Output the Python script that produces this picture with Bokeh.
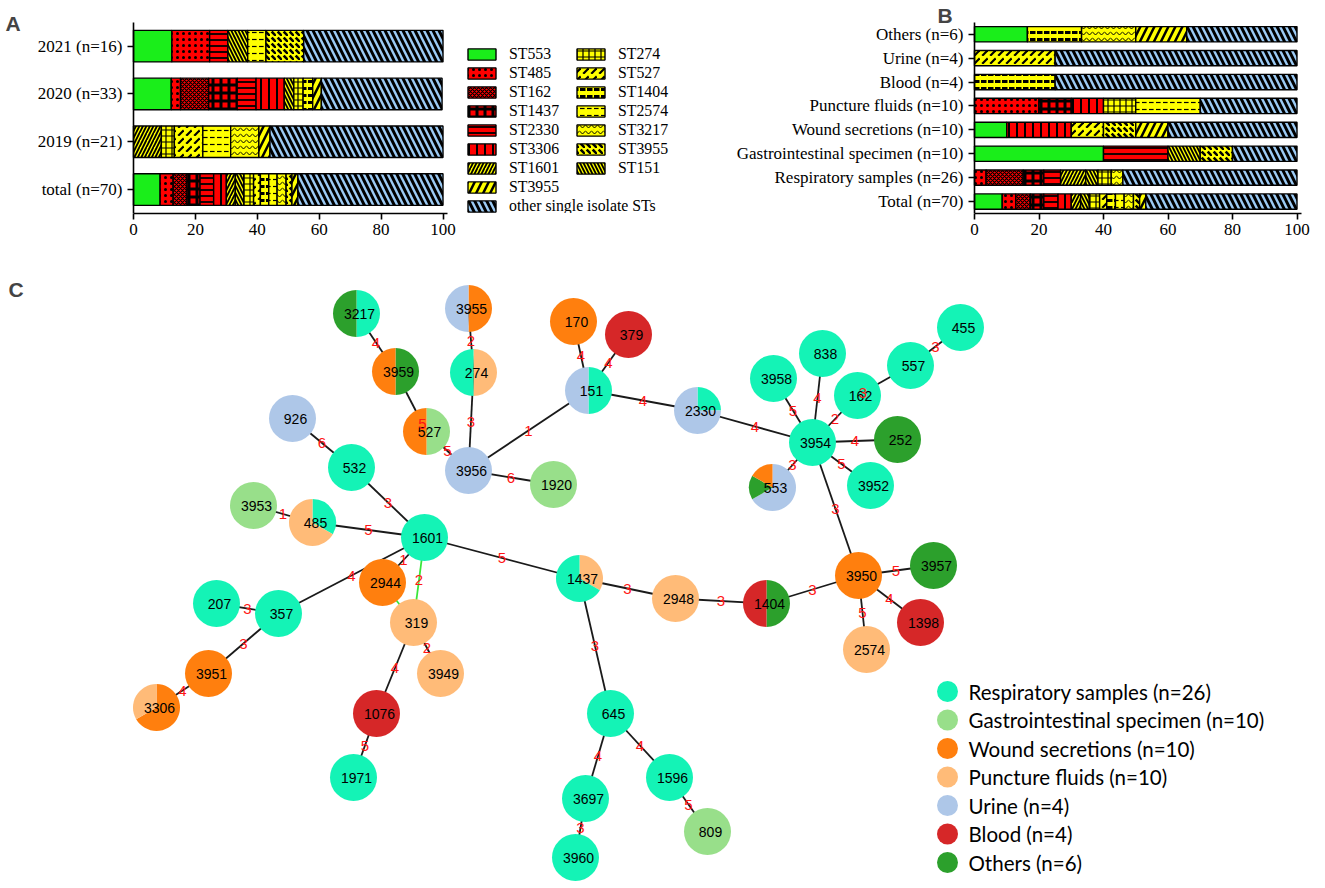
import math
from bokeh.plotting import figure
from bokeh.models import (Range1d, ColumnDataSource, Legend, LegendItem, FixedTicker, Label)
from bokeh.layouts import column, row
from bokeh.embed import file_html
from bokeh.resources import INLINE
from bokeh.core.properties import value

# ---------------- data: stacked bars (percent of isolates) ----------------
st_types = ["ST553", "ST485", "ST162", "ST1437", "ST2330", "ST3306", "ST1601", "ST151",
            "ST274", "ST527", "ST1404", "ST2574", "ST3217", "ST3955b", "ST3955", "other"]

# panel A (values aligned with st_types)
total_70 = [8.6, 4.2, 4.5, 4.2, 4.4, 4.1, 2.9, 2.7, 3.2, 2.2, 2.7, 2.7, 2.9, 1.9, 1.9, 46.9]
y2019_21 = [0, 0, 0, 0, 0, 0, 9.0, 0, 4.2, 9.2, 0, 9.0, 9.1, 0, 3.6, 55.9]
y2020_33 = [12.2, 3.0, 9.1, 9.2, 6.1, 9.1, 0, 3.1, 3.0, 0, 3.1, 0, 0, 0, 2.8, 39.0]
y2021_16 = [12.4, 12.2, 0, 0, 5.9, 0, 0, 6.4, 0, 0, 0, 5.9, 0, 12.2, 0, 45.0]
cats_a = ["total (n=70)", "2019 (n=21)", "2020 (n=33)", "2021 (n=16)"]

# panel B (values aligned with st_types)
resp_26 = [0, 3.6, 11.5, 6.4, 5.2, 0, 7.8, 3.8, 4.1, 0, 0, 0, 3.6, 0, 0, 54.0]
gastro_10 = [40, 0, 0, 0, 20, 0, 0, 10, 0, 0, 0, 0, 0, 10, 0, 20]
wound_10 = [10, 0, 0, 0, 0, 20, 0, 0, 0, 10, 0, 0, 0, 10, 10, 40]
puncture_10 = [0, 20, 0, 10, 0, 10, 0, 0, 10, 0, 0, 20, 0, 0, 0, 30]
blood_4 = [0, 0, 0, 0, 0, 0, 0, 0, 0, 0, 25, 0, 0, 0, 0, 75]
urine_4 = [0, 0, 0, 0, 0, 0, 0, 0, 0, 25, 0, 0, 0, 0, 0, 75]
others_6 = [16.4, 0, 0, 0, 0, 0, 0, 0, 0, 0, 16.8, 0, 16.8, 0, 15.8, 34.2]
cats_b = ["Total (n=70)", "Respiratory samples (n=26)", "Gastrointestinal specimen (n=10)",
          "Wound secretions (n=10)", "Puncture fluids (n=10)", "Blood (n=4)", "Urine (n=4)",
          "Others (n=6)"]

legend_col1 = [("ST553", "ST553"), ("ST485", "ST485"), ("ST162", "ST162"), ("ST1437", "ST1437"),
               ("ST2330", "ST2330"), ("ST3306", "ST3306"), ("ST1601", "ST1601"),
               ("ST3955", "ST3955"), ("other", "other single isolate STs")]
legend_col2 = [("ST274", "ST274"), ("ST527", "ST527"), ("ST1404", "ST1404"), ("ST2574", "ST2574"),
               ("ST3217", "ST3217"), ("ST3955b", "ST3955"), ("ST151", "ST151")]

# ---------------- data: minimum spanning tree ----------------
node_ids = ["3217", "3955", "170", "379", "455", "838", "557", "3959", "274", "151", "2330", "3958",
            "162", "926", "527", "3954", "252", "532", "3956", "1920", "553", "3952", "3953", "485",
            "1601", "2944", "1437", "2948", "1404", "3950", "3957", "1398", "2574", "207", "357",
            "319", "3949", "3951", "3306", "1076", "1971", "645", "3697", "1596", "809", "3960"]
node_x = [356, 468, 573, 628, 960, 822, 910, 395, 473, 588, 697, 773, 857, 292, 426, 812, 897, 351,
          468, 553, 772, 870, 253, 312, 424, 382, 579, 675, 766, 858, 933, 920, 866, 216, 278, 413,
          440, 208, 156, 376, 353, 610, 585, 669, 707, 575]
node_y = [575, 580, 567, 554, 561, 535, 523, 517, 516, 498, 478, 510, 493, 470, 457, 446, 449, 421,
          418, 404, 401, 403, 383, 366, 351, 306, 310, 290, 285, 313, 323, 266, 239, 285, 275, 266,
          215, 215, 181, 175, 111, 175, 90, 111, 57, 31]
# isolates per sample source, clockwise from 12 o'clock
node_mix = ["R1 O1", "W1 U1", "W1", "B1", "R1", "R1", "R1", "O1 W1", "P1 R1", "R1 U1", "R1 U3",
            "R1", "R1", "U1", "G1 W1", "R1", "O1", "R1", "U1", "G1", "U4 O1 W1", "R1", "G1",
            "R1 P2", "R1", "W1", "P1 R2", "P1", "O1 B1", "W1", "O1", "B1", "P1", "R1", "R1", "P1",
            "P1", "W1", "W2 P1", "B1", "R1", "R1", "R1", "R1", "G1", "R1"]

edge_from = ["3217", "3955", "3959", "274", "527", "3956", "3956", "151", "151", "151", "2330",
             "3954", "3954", "3954", "162", "557", "3954", "3954", "3954", "3954", "926", "532",
             "3953", "485", "1601", "1601", "1601", "2944", "1601", "207", "357", "3951", "319",
             "319", "1076", "1437", "2948", "1404", "3950", "3950", "3950", "1437", "645", "645",
             "3697", "1596"]
edge_to = ["3959", "274", "527", "3956", "3956", "151", "1920", "170", "379", "2330", "3954",
           "3958", "838", "162", "557", "455", "252", "3952", "553", "3950", "532", "1601", "485",
           "1601", "2944", "357", "319", "319", "1437", "357", "3951", "3306", "3949", "1076",
           "1971", "2948", "1404", "3950", "3957", "1398", "2574", "645", "3697", "1596", "3960",
           "809"]
edge_dist = ["4", "2", "5", "3", "5", "1", "6", "4", "4", "4", "4", "5", "4", "2", "3", "3", "4",
             "5", "3", "3", "6", "3", "1", "5", "1", "4", "2", "", "5", "3", "3", "4", "2", "4",
             "5", "3", "3", "3", "5", "4", "5", "3", "4", "4", "3", "5"]

source_codes = ["R", "G", "W", "P", "U", "B", "O"]
source_labels = ["Respiratory samples (n=26)", "Gastrointestinal specimen (n=10)",
                 "Wound secretions (n=10)", "Puncture fluids (n=10)", "Urine (n=4)",
                 "Blood (n=4)", "Others (n=6)"]

# ---------------- styles ----------------
SERIF = "Liberation Serif"
SANS = "Liberation Sans"
YEL = "#ffff00"
RED = "#ff0000"
bar_style = {
    "ST553": dict(fill_color="#1aee1a", hatch_pattern=None),
    "ST485": dict(fill_color=RED, hatch_pattern=".", hatch_scale=6, hatch_weight=1.5),
    "ST162": dict(fill_color=RED, hatch_pattern="x", hatch_scale=4, hatch_weight=1.2),
    "ST1437": dict(fill_color=RED, hatch_pattern="+", hatch_scale=8, hatch_weight=3),
    "ST2330": dict(fill_color=RED, hatch_pattern="-", hatch_scale=6, hatch_weight=1.8),
    "ST3306": dict(fill_color=RED, hatch_pattern="|", hatch_scale=8, hatch_weight=2),
    "ST1601": dict(fill_color=YEL, hatch_pattern="/", hatch_scale=7, hatch_weight=1.8),
    "ST151": dict(fill_color=YEL, hatch_pattern="\\", hatch_scale=7, hatch_weight=1.8),
    "ST274": dict(fill_color=YEL, hatch_pattern="+", hatch_scale=6, hatch_weight=1.2),
    "ST527": dict(fill_color=YEL, hatch_pattern=",", hatch_scale=8, hatch_weight=2.2),
    "ST1404": dict(fill_color=YEL, hatch_pattern='"', hatch_scale=7, hatch_weight=3),
    "ST2574": dict(fill_color=YEL, hatch_pattern='"', hatch_scale=7, hatch_weight=1.2),
    "ST3217": dict(fill_color=YEL, hatch_pattern="v", hatch_scale=6, hatch_weight=1),
    "ST3955b": dict(fill_color=YEL, hatch_pattern="`", hatch_scale=6, hatch_weight=2.5),
    "ST3955": dict(fill_color=YEL, hatch_pattern="/", hatch_scale=14, hatch_weight=2.5),
    "other": dict(fill_color="#9ccbf5", hatch_pattern="\\", hatch_scale=12, hatch_weight=3),
}
source_colors = {"R": "#14f3b6", "G": "#98df8a", "W": "#ff7f0e", "P": "#ffbb78",
                 "U": "#aec7e8", "B": "#d62728", "O": "#2ca02c"}

TOP_H = 270


def bar_figure(width, cats, bars, zero_px, unit_px, axis_end, frame_bottom, band_top, bar_h):
    n = len(cats)
    band_px = (frame_bottom - band_top) / n
    p = figure(width=width, height=TOP_H,
               x_range=Range1d(-zero_px / unit_px, (width - zero_px) / unit_px),
               y_range=Range1d(0.5, 0.5 + frame_bottom / band_px),
               output_backend="svg", toolbar_location=None,
               min_border_left=0, min_border_right=0, min_border_top=0,
               min_border_bottom=TOP_H - frame_bottom)
    p.outline_line_color = None
    p.grid.visible = False
    rends = {}
    for k, key in enumerate(st_types):
        ys, lefts, rights = [], [], []
        for i, vals in enumerate(bars):
            if vals[k] > 0:
                left = sum(vals[:k])
                ys.append(i + 1)
                lefts.append(left)
                rights.append(left + vals[k])
        if not ys:
            continue
        src = ColumnDataSource(dict(y=ys, left=lefts, right=rights))
        rends[key] = p.hbar(y="y", left="left", right="right", height=bar_h, source=src,
                            line_color="black", line_width=1.4, hatch_color="black",
                            **bar_style[key])
    for ax in (p.xaxis[0], p.yaxis[0]):
        ax.axis_line_width = 1.6
        ax.axis_line_color = "black"
        ax.major_tick_line_width = 1.6
        ax.major_tick_line_color = "black"
        ax.major_tick_out = 6
        ax.major_tick_in = 0
        ax.minor_tick_line_color = None
        ax.major_label_text_font = SERIF
        ax.major_label_text_font_size = "17px"
        ax.major_label_text_color = "black"
    p.xaxis.ticker = FixedTicker(ticks=[0, 20, 40, 60, 80, 100])
    p.xaxis.bounds = (0, axis_end)
    p.xaxis.major_label_standoff = 4
    p.yaxis.ticker = FixedTicker(ticks=list(range(1, n + 1)))
    p.yaxis.major_label_overrides = {i + 1: c for i, c in enumerate(cats)}
    p.yaxis.bounds = (0.5, n + 0.5)
    p.yaxis.fixed_location = 0
    p.yaxis.major_label_standoff = 5
    return p, rends


# ---------------- panel A ----------------
pA, rA = bar_figure(708, cats_a, [total_70, y2019_21, y2020_33, y2021_16],
                    133, 3.095, 101.4, 213, 21.7, 0.66)


def make_legend(items, loc):
    return Legend(items=[LegendItem(label=lab, renderers=[rA[key]]) for key, lab in items],
                  location=loc, background_fill_alpha=0, border_line_color=None,
                  padding=0, margin=0, spacing=0, glyph_width=35, glyph_height=14,
                  label_standoff=10, label_height=19, label_text_font=SERIF,
                  label_text_font_size="15.8px", label_text_color="black")


pA.add_layout(make_legend(legend_col1, (464, -2)))
pA.add_layout(make_legend(legend_col2, (573, 36)))
pA.add_layout(Label(x=5, y=190, x_units="screen", y_units="screen", text="A",
                    text_baseline="alphabetic", text_font=SANS, text_font_style="bold",
                    text_font_size="21px"))

# ---------------- panel B ----------------
pB, rB = bar_figure(617, cats_b, [total_70, resp_26, gastro_10, wound_10, puncture_10,
                                  blood_4, urine_4, others_6],
                    266, 3.225, 101.4, 222, 22.7, 0.64)
pB.add_layout(Label(x=229, y=198, x_units="screen", y_units="screen", text="B",
                    text_baseline="alphabetic", text_font=SANS, text_font_style="bold",
                    text_font_size="21px"))

# ---------------- panel C ----------------
C_H = 888 - TOP_H
pC = figure(width=1325, height=C_H, x_range=Range1d(0, 1325), y_range=Range1d(0, C_H),
            output_backend="svg", toolbar_location=None, min_border=0,
            x_axis_location=None, y_axis_location=None)
pC.outline_line_color = None
pC.grid.visible = False

pos = {n: (x, y) for n, x, y in zip(node_ids, node_x, node_y)}
green_edges = {("1601", "319"), ("2944", "319")}
label_t = {("3959", "527"): 0.87, ("162", "557"): 0.1}

ex0, ey0, ex1, ey1, ecol, lx, ly, ltxt = [], [], [], [], [], [], [], []
for a, b, d in zip(edge_from, edge_to, edge_dist):
    (xa, ya), (xb, yb) = pos[a], pos[b]
    ex0.append(xa); ey0.append(ya); ex1.append(xb); ey1.append(yb)
    ecol.append("#39e639" if (a, b) in green_edges else "#1a1a1a")
    if d:
        t = label_t.get((a, b), 0.5)
        lx.append(xa + t * (xb - xa)); ly.append(ya + t * (yb - ya)); ltxt.append(d)
pC.segment(x0=ex0, y0=ey0, x1=ex1, y1=ey1, line_color=ecol, line_width=1.8)

cx, cy, ccol = [], [], []
wx, wy, ws, we, wcol = [], [], [], [], []
for n, mix in zip(node_ids, node_mix):
    parts = [(p_[0], int(p_[1:])) for p_ in mix.split()]
    tot = sum(c for _, c in parts)
    x, y = pos[n]
    if len(parts) == 1:
        cx.append(x); cy.append(y); ccol.append(source_colors[parts[0][0]])
        continue
    cum = 0
    for code, c in parts:
        wx.append(x); wy.append(y)
        ws.append(math.pi / 2 - 2 * math.pi * cum / tot)
        cum += c
        we.append(math.pi / 2 - 2 * math.pi * cum / tot)
        wcol.append(source_colors[code])

R = 23.5
pC.circle(x=cx, y=cy, radius=R, fill_color=ccol, line_color=None)
pC.wedge(x=wx, y=wy, radius=R, start_angle=ws, end_angle=we, direction="clock",
         fill_color=wcol, line_color=None)
pC.text(x=[x + 3 for x in node_x], y=node_y, text=node_ids, text_align="center",
        text_baseline="middle", text_font=value(SANS), text_font_size="14px",
        text_color="black")
pC.text(x=lx, y=ly, text=ltxt, text_align="center", text_baseline="middle",
        text_font=value(SANS), text_font_size="15px", text_color="#ff1414")

# legend for sources
leg_y = [197 - i * 28.5 for i in range(len(source_codes))]
pC.circle(x=[947] * len(source_codes), y=leg_y, radius=10.5,
          fill_color=[source_colors[c] for c in source_codes], line_color=None)
pC.text(x=[968] * len(source_codes), y=leg_y, text=source_labels, text_align="left",
        text_baseline="middle", text_font=value("Lato"), text_font_size="20.5px",
        text_color="black")
pC.add_layout(Label(x=8, y=588, text="C", text_font=SANS, text_font_style="bold",
                    text_font_size="21px"))

layout = column(row(pA, pB), pC)
open("out.html", "w").write(file_html(layout, INLINE))
